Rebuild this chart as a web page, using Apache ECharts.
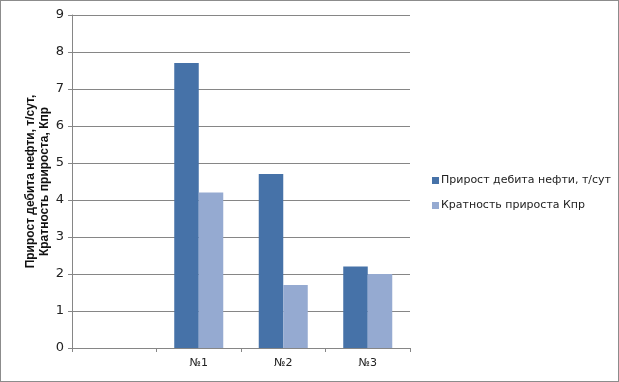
<!DOCTYPE html>
<html>
<head>
<meta charset="utf-8">
<script src="https://cdn.jsdelivr.net/npm/echarts@6/dist/echarts.min.js"></script>
<style>
  html, body { margin: 0; padding: 0; background: #fff; }
  #chart { width: 617px; height: 380px; border: 1px solid #8c8c8c; }
</style>
</head>
<body>
<div id="chart"></div>
<script>
// categories (first one is empty in the original)
const categories = ['', '№1', '№2', '№3']
const seriesNames = ['Прирост дебита нефти, т/сут', 'Кратность прироста Кпр']
const debitGain = [null, 7.7, 4.7, 2.2]
const gainRatio = [null, 4.2, 1.7, 2.0]
const yTicks = { min: 0, max: 9, interval: 1 }

const chart = echarts.init(document.getElementById('chart'))

const option = {
  animation: false,
  textStyle: { fontFamily: 'DejaVu Sans' },
  grid: {
    left: 71,
    right: 208,
    top: 14,
    bottom: 33
  },
  legend: {
    orient: 'vertical',
    left: 426,
    top: 169,
    itemWidth: 7,
    itemHeight: 7,
    itemGap: 14,
    icon: 'rect',
    textStyle: { fontSize: 11, color: '#222', fontFamily: 'DejaVu Sans', padding: [0, 0, 0, -3] },
    data: seriesNames
  },
  xAxis: {
    type: 'category',
    data: categories,
    axisLine: { lineStyle: { color: '#868686' } },
    axisTick: { show: true, length: 4, lineStyle: { color: '#868686' } },
    axisLabel: { fontSize: 11, color: '#222', margin: 10 }
  },
  yAxis: {
    type: 'value',
    min: yTicks.min,
    max: yTicks.max,
    interval: yTicks.interval,
    name: 'Прирост дебита нефти, т/сут,\nКратность прироста, Кпр',
    nameLocation: 'middle',
    nameRotate: 90,
    nameGap: 20,
    nameMoveOverlap: false,
    nameTextStyle: { fontSize: 12, fontWeight: 'bold', color: '#111', lineHeight: 14, align: 'center', fontFamily: 'Liberation Sans' },
    axisLine: { show: true, lineStyle: { color: '#868686' } },
    axisTick: { show: true, length: 4, lineStyle: { color: '#868686' } },
    axisLabel: { fontSize: 13, color: '#222', margin: 8 },
    splitLine: { lineStyle: { color: '#868686', width: 1 } }
  },
  series: [
    {
      name: seriesNames[0],
      type: 'bar',
      data: debitGain,
      barGap: '0%',
      barCategoryGap: '42%',
      itemStyle: { color: '#4672A8' }
    },
    {
      name: seriesNames[1],
      type: 'bar',
      data: gainRatio,
      itemStyle: { color: '#95AAD1' }
    }
  ]
}

chart.setOption(option)
</script>
</body>
</html>
